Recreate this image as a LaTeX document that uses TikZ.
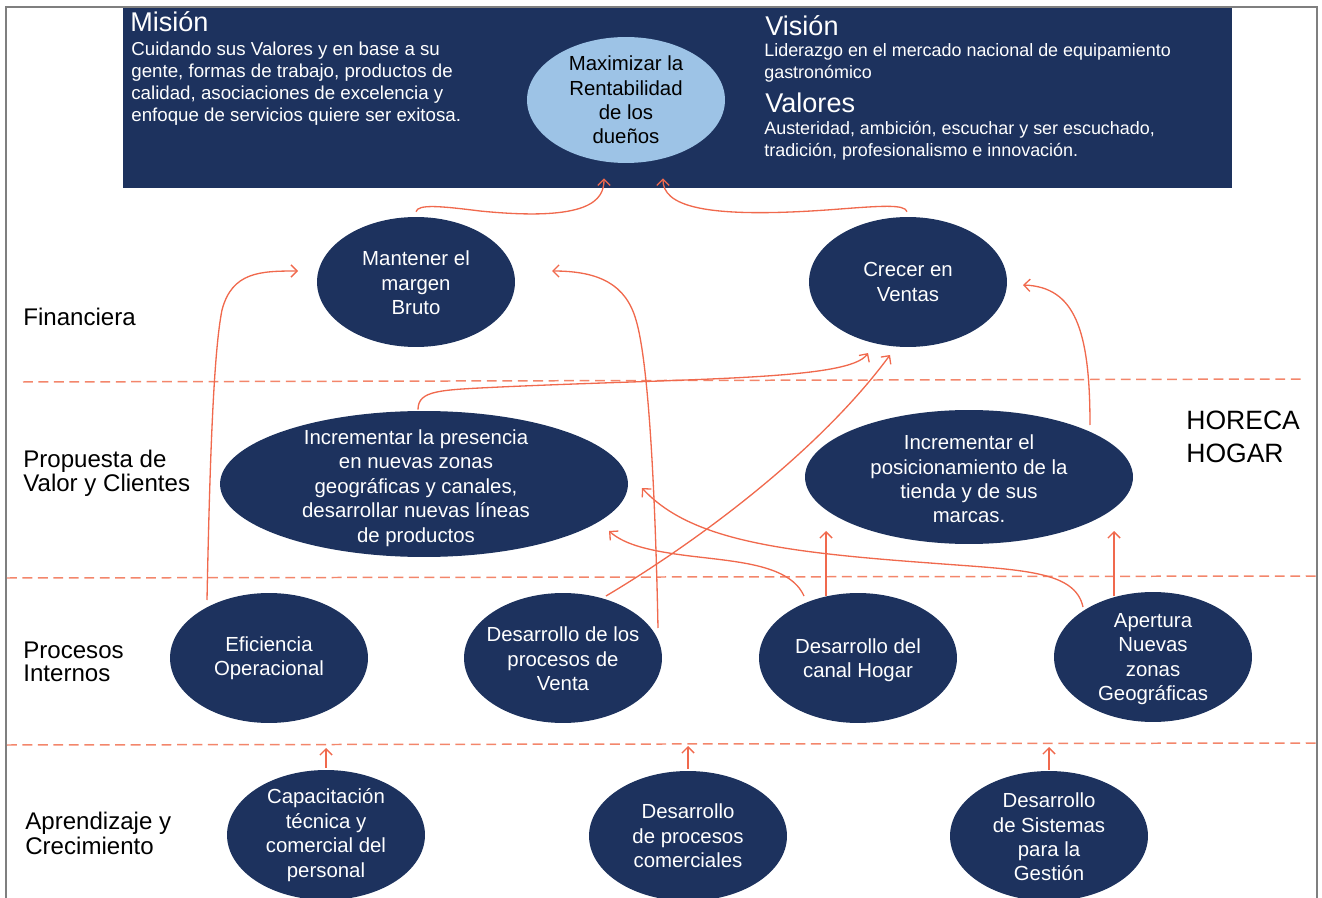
\documentclass[tikz,border=0pt]{standalone}
\usepackage{fontspec}
\setmainfont{Liberation Sans}
\usetikzlibrary{shapes.geometric,arrows.meta}
\definecolor{navy}{HTML}{1D325E}
\definecolor{sky}{HTML}{9DC3E6}
\definecolor{linkred}{HTML}{F0694D}
\definecolor{guidered}{HTML}{F3866B}
\definecolor{framegray}{HTML}{7F7F7F}

\begin{document}
\begin{tikzpicture}[x=0.02cm,y=-0.02cm,
  goal/.style={ellipse, fill=navy, inner sep=0pt, minimum width=3.96cm, minimum height=2.6cm},
  wtext/.style={text=white, align=center, inner sep=0pt, font=\fontsize{11.6}{13.9}\selectfont},
  dtext/.style={wtext, text=black},
  arrowline/.style={draw=linkred, line width=0.75pt, -{Straight Barb[length=3.5pt,width=7pt]}},
  guide/.style={draw=guidered, line width=0.85pt, dash pattern=on 5.6pt off 3.2pt},
  lane/.style={anchor=base west, align=left, inner sep=0pt, font=\fontsize{13.7}{13.7}\selectfont},
  htitle/.style={anchor=base west, inner sep=0pt, text=white, font=\fontsize{15.4}{15.4}\selectfont},
  hbody/.style={anchor=base west, align=left, inner sep=0pt, text=white, font=\fontsize{10.2}{12.7}\selectfont}]

\useasboundingbox (0,0) rectangle (1322,898);

% header band with mission, vision and values
\fill[navy] (123,7) rectangle (1232,188);
\draw[framegray, line width=0.9pt] (6,898) -- (6,7) -- (1317,7) -- (1317,898);

% multi-line nodes are placed by the baseline of their last line
\node[htitle] (mtitle) at (130,32) {Misión};
\node[hbody, font=\fontsize{10.65}{12.7}\selectfont] (mtext) at (131,122) {Cuidando sus Valores y en base a su\\gente, formas de trabajo, productos de\\calidad, asociaciones de excelencia y\\enfoque de servicios quiere ser exitosa.};
\node[htitle] (vtitle) at (765,36) {Visión};
\node[hbody] (vtext) at (764,78.5) {Liderazgo en el mercado nacional de equipamiento\\gastronómico};
\node[htitle] (valtitle) at (765,113) {Valores};
\node[hbody] (valtext) at (764,156.5) {Austeridad, ambición, escuchar y ser escuchado,\\tradición, profesionalismo e innovación.};

% perspective separators
\draw[guide] (23,382) -- (1303,379);
\draw[guide] (7,578) -- (1317,576);
\draw[guide] (7,745) -- (1317,743);

% perspective names
\node[lane] (l1) at (23,325.5) {Financiera};
\node[lane, font=\fontsize{13.7}{13.7}\selectfont] (l2) at (23,491.5) {Propuesta de\\Valor y Clientes};
\node[lane, font=\fontsize{13.7}{13.3}\selectfont] (l3) at (23,681.5) {Procesos\\Internos};
\node[lane, font=\fontsize{13.7}{14.2}\selectfont] (l4) at (25,854.5) {Aprendizaje y\\Crecimiento};
\node[lane, font=\fontsize{15.1}{18.8}\selectfont] (seg) at (1186,462.5) {HORECA\\HOGAR};

% objectives
\node[goal, fill=sky, minimum height=2.52cm, label={[dtext]center:{Maximizar la\\Rentabilidad\\de los\\dueños}}] (maxi) at (626,100) {};
\node[goal, label={[wtext, yshift=-0.02cm]center:{Mantener el\\margen\\Bruto}}] (mant) at (416,282) {};
\node[goal, label={[wtext]center:{Crecer en\\Ventas}}] (crec) at (908,282) {};
\node[goal, minimum width=8.16cm, minimum height=2.92cm, label={[wtext, xshift=-0.16cm, yshift=-0.08cm]center:{Incrementar la presencia\\en nuevas zonas\\geográficas y canales,\\desarrollar nuevas líneas\\de productos}}] (pres) at (424,484) {};
\node[goal, minimum width=6.56cm, minimum height=2.68cm, label={[wtext, yshift=-0.04cm]center:{Incrementar el\\posicionamiento de la\\tienda y de sus\\marcas.}}] (posi) at (969,477) {};
\node[goal, label={[wtext]center:{Eficiencia\\Operacional}}] (efic) at (269,658) {};
\node[goal, label={[wtext, yshift=-0.02cm]center:{Desarrollo de los\\procesos de\\Venta}}] (venta) at (563,658) {};
\node[goal, label={[wtext, yshift=-0.04cm]center:{Desarrollo del\\canal Hogar}}] (hogar) at (858,658) {};
\node[goal, label={[wtext, yshift=-0.04cm]center:{Apertura\\Nuevas\\zonas\\Geográficas}}] (apert) at (1153,657) {};
\node[goal, label={[wtext]center:{Capacitación\\técnica y\\comercial del\\personal}}] (capa) at (326,835) {};
\node[goal, label={[wtext]center:{Desarrollo\\de procesos\\comerciales}}] (proc) at (688,836) {};
\node[goal, label={[wtext, yshift=-0.02cm]center:{Desarrollo\\de Sistemas\\para la\\Gestión}}] (sist) at (1049,836) {};

% cause and effect links
\draw[arrowline] ([shift={(0,-5)}]mant.north) .. controls (418,204) and (440,206) .. (480,211)
  .. controls (590,222) and (604,200) .. ([shift={(-22,15)}]maxi.south);
\draw[arrowline] ([shift={(-1,-5)}]crec.north) .. controls (905,204) and (880,206) .. (840,209)
  .. controls (700,220) and (663,205) .. ([shift={(37,15)}]maxi.south);
\draw[arrowline] ([shift={(-62,-58)}]efic.center) .. controls (210,450) and (214,350) .. (222,310)
  .. controls (232,272) and (260,271) .. ([shift={(-118,-11)}]mant.center);
\draw[arrowline] ([shift={(95,-30)}]venta.center) .. controls (655,480) and (648,360) .. (636,320)
  .. controls (626,285) and (600,271) .. ([shift={(136,-11)}]mant.center);
\draw[arrowline] ([shift={(43,-62)}]venta.center) .. controls (700,540) and (820,450) .. ([shift={(-18,73)}]crec.center);
\draw[arrowline] ([shift={(-6,-1)}]pres.north) .. controls (418,390) and (440,390) .. (500,387)
  .. controls (700,378) and (850,380) .. ([shift={(-40,71)}]crec.center);
\draw[arrowline] ([shift={(121,-52)}]posi.center) .. controls (1090,330) and (1075,287) .. ([shift={(115,3)}]crec.center);
\draw[arrowline] ([shift={(-54,-62)}]hogar.center) .. controls (790,565) and (740,562) .. (690,556)
  .. controls (650,551) and (625,545) .. ([shift={(185,47)}]pres.center);
\draw[arrowline] ([shift={(-32,-62)}]hogar.center) -- ([shift={(-143,54)}]posi.center);
\draw[arrowline] ([shift={(-70,-50)}]apert.center) .. controls (1075,570) and (1020,570) .. (930,563)
  .. controls (780,552) and (690,540) .. ([shift={(218,4)}]pres.center);
\draw[arrowline] ([shift={(-39,-61)}]apert.center) -- ([shift={(145,54)}]posi.center);
\draw[arrowline] ([shift={(0,-2)}]capa.north) -- ([shift={(57,90)}]efic.center);
\draw[arrowline] ([shift={(0,-2)}]proc.north) -- ([shift={(125,88)}]venta.center);
\draw[arrowline] ([shift={(0,-1)}]sist.north) -- ([shift={(191,89)}]hogar.center);
\end{tikzpicture}
\end{document}
